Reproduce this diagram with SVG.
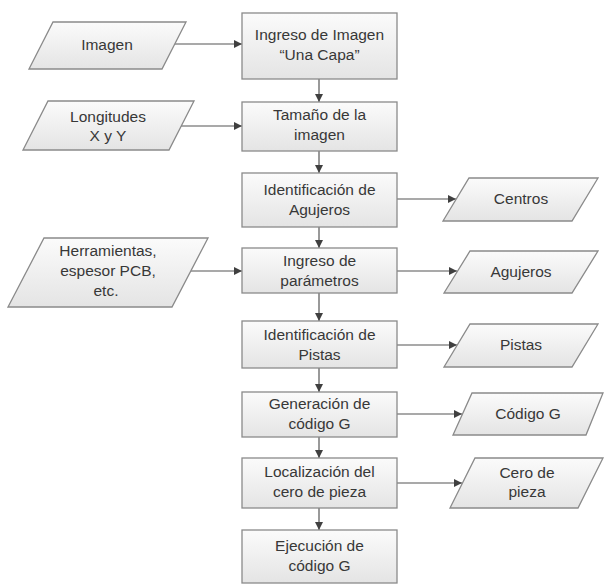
<svg xmlns="http://www.w3.org/2000/svg" width="605" height="586" viewBox="0 0 605 586">
<defs>
<linearGradient id="g" x1="0" y1="0" x2="0" y2="1">
<stop offset="0" stop-color="#fbfbfb"/>
<stop offset="1" stop-color="#e4e4e4"/>
</linearGradient>
<marker id="ah" viewBox="0 0 10 10" refX="10" refY="5" markerWidth="8" markerHeight="8" markerUnits="userSpaceOnUse" orient="auto">
<path d="M0,0 L10,5 L0,10 z" fill="#404040"/>
</marker>
</defs>
<style>
.box{fill:url(#g);stroke:#8a8a8a;stroke-width:1.3}
.t{font-family:"Liberation Sans",Arial,sans-serif;font-size:15.5px;fill:#383838;text-anchor:middle}
.c{stroke:#555;stroke-width:1.2;fill:none;marker-end:url(#ah)}
</style>
<rect width="605" height="586" fill="#ffffff"/>
<g id="connectors">
<line class="c" x1="174" y1="44" x2="242" y2="44"/>
<line class="c" x1="181" y1="126" x2="242" y2="126"/>
<line class="c" x1="190" y1="271" x2="242" y2="271"/>
<line class="c" x1="397" y1="199" x2="456" y2="199"/>
<line class="c" x1="397" y1="271" x2="457" y2="271"/>
<line class="c" x1="397" y1="345" x2="457" y2="345"/>
<line class="c" x1="397" y1="414" x2="462" y2="414"/>
<line class="c" x1="397" y1="483" x2="462" y2="483"/>
<line class="c" x1="319" y1="79" x2="319" y2="102"/>
<line class="c" x1="319" y1="151" x2="319" y2="173"/>
<line class="c" x1="319" y1="227" x2="319" y2="248"/>
<line class="c" x1="319" y1="293" x2="319" y2="321"/>
<line class="c" x1="319" y1="368" x2="319" y2="392"/>
<line class="c" x1="319" y1="437" x2="319" y2="458"/>
<line class="c" x1="319" y1="508" x2="319" y2="530"/>
</g>
<g id="in_imagen">
<polygon class="box" points="53,22 186,22 162,69 29,69"/>
<text class="t" x="107" y="50">Imagen</text>
</g>
<g id="in_longitudes">
<polygon class="box" points="48,101 194,101 169,150 23,150"/>
<text class="t" x="108" y="122">Longitudes</text>
<text class="t" x="108" y="141">X y Y</text>
</g>
<g id="in_herramientas">
<polygon class="box" points="44,238 208,238 172,307 8,307"/>
<text class="t" x="108" y="256">Herramientas,</text>
<text class="t" x="108" y="276">espesor PCB,</text>
<text class="t" x="106" y="296">etc.</text>
</g>
<g id="p1">
<rect class="box" x="242" y="13" width="155" height="66"/>
<text class="t" x="319.5" y="40">Ingreso de Imagen</text>
<text class="t" x="319.5" y="60">“Una Capa”</text>
</g>
<g id="p2">
<rect class="box" x="242" y="102" width="155" height="49"/>
<text class="t" x="319.5" y="120">Tamaño de la</text>
<text class="t" x="319.5" y="140">imagen</text>
</g>
<g id="p3">
<rect class="box" x="242" y="173" width="155" height="54"/>
<text class="t" x="319.5" y="195">Identificación de</text>
<text class="t" x="319.5" y="215">Agujeros</text>
</g>
<g id="p4">
<rect class="box" x="242" y="248" width="155" height="45"/>
<text class="t" x="319.5" y="266">Ingreso de</text>
<text class="t" x="319.5" y="286">parámetros</text>
</g>
<g id="p5">
<rect class="box" x="242" y="321" width="155" height="47"/>
<text class="t" x="319.5" y="340">Identificación de</text>
<text class="t" x="319.5" y="360">Pistas</text>
</g>
<g id="p6">
<rect class="box" x="242" y="392" width="155" height="45"/>
<text class="t" x="319.5" y="409">Generación de</text>
<text class="t" x="319.5" y="429">código G</text>
</g>
<g id="p7">
<rect class="box" x="242" y="458" width="155" height="50"/>
<text class="t" x="319.5" y="477">Localización del</text>
<text class="t" x="319.5" y="497">cero de pieza</text>
</g>
<g id="p8">
<rect class="box" x="242" y="530" width="155" height="53"/>
<text class="t" x="319.5" y="551">Ejecución de</text>
<text class="t" x="319.5" y="571">código G</text>
</g>
<g id="out_centros">
<polygon class="box" points="469,178 598,178 572,221 443,221"/>
<text class="t" x="521" y="204">Centros</text>
</g>
<g id="out_agujeros">
<polygon class="box" points="470,251 598,251 572,293 444,293"/>
<text class="t" x="521" y="277">Agujeros</text>
</g>
<g id="out_pistas">
<polygon class="box" points="470,324 598,324 572,367 444,367"/>
<text class="t" x="521" y="350">Pistas</text>
</g>
<g id="out_codigo">
<polygon class="box" points="472,393 603,393 586,435 453,435"/>
<text class="t" x="528" y="419">Código G</text>
</g>
<g id="out_cero">
<polygon class="box" points="475,458 603,458 578,508 450,508"/>
<text class="t" x="527" y="478">Cero de</text>
<text class="t" x="527" y="497">pieza</text>
</g>
</svg>
